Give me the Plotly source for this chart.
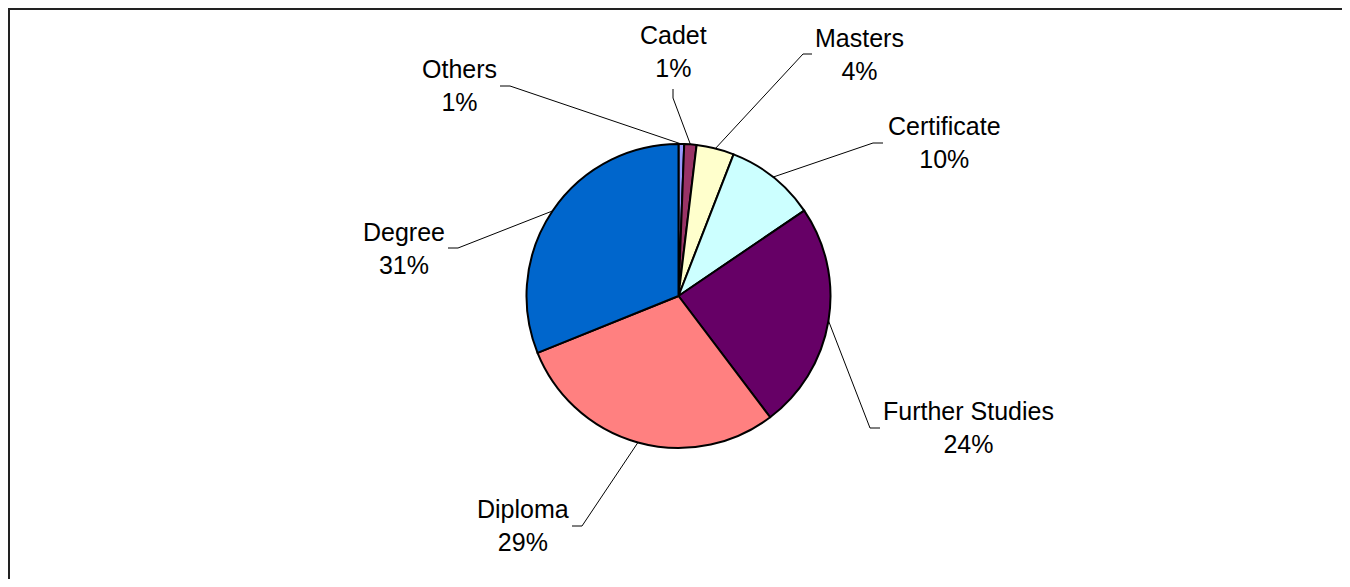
import math
import plotly.graph_objects as go

# slice order as drawn, starting at 12 o'clock and going clockwise
labels = ['Others', 'Cadet', 'Masters', 'Certificate', 'Further Studies', 'Diploma', 'Degree']
shares = [0.6, 1.3, 4.0, 9.6, 24.2, 29.2, 31.1]
colors = ['#9999FF', '#993366', '#FFFFCC', '#CCFFFF', '#660066', '#FF8080', '#0066CC']

# label centre and leader-line elbow, in screen pixels
label_xy = [(459, 85), (673.5, 52), (859, 54), (944, 142.5), (968, 427.5), (522.5, 525), (403.5, 248)]
elbow_xy = [(510, 86), (673, 98), (803, 54), (873, 143), (870, 428), (582, 526), (458, 248)]
tail_xy = [(500, 86), (673, 89), (812, 54), (883, 143), (880, 428), (572, 526), (448, 248)]

W, H, OFF = 1334, 571, 8
cx, cy, r = 678.5, 296, 152


def fx(x):
    return (x - OFF) / W


def fy(y):
    return 1 - (y - OFF) / H


fig = go.Figure(go.Pie(
    labels=labels,
    values=shares,
    sort=False,
    direction='clockwise',
    rotation=0,
    textinfo='none',
    marker=dict(colors=colors, line=dict(color='black', width=2)),
    domain=dict(x=[fx(cx - r), fx(cx + r)], y=[fy(cy + r), fy(cy - r)]),
    showlegend=False,
))

total = sum(shares)
shapes = []
annotations = []
cum = 0
for lab, v, (lx, ly), (ex, ey), (tx, ty) in zip(labels, shares, label_xy, elbow_xy, tail_xy):
    a = 2 * math.pi * (cum + v / 2) / total
    cum += v
    sx, sy = cx + r * math.sin(a), cy - r * math.cos(a)
    shapes.append(dict(
        type='path', xref='paper', yref='paper',
        path=f'M {fx(sx)},{fy(sy)} L {fx(ex)},{fy(ey)} L {fx(tx)},{fy(ty)}',
        line=dict(color='black', width=1),
    ))
    annotations.append(dict(
        x=fx(lx), y=fy(ly), xref='paper', yref='paper',
        text=f'{lab}<br>{round(v / total * 100)}%',
        showarrow=False, xanchor='center', yanchor='middle', align='center',
        font=dict(family='Liberation Sans, Arial', size=25, color='black'),
    ))

# chart frame
shapes.append(dict(
    type='rect', xref='paper', yref='paper',
    x0=fx(OFF + 1), x1=fx(1348), y0=fy(600), y1=fy(OFF + 1),
    line=dict(color='#222222', width=2),
))

fig.update_layout(
    width=W, height=H,
    margin=dict(l=0, r=0, t=0, b=0),
    paper_bgcolor='white',
    plot_bgcolor='white',
    shapes=shapes,
    annotations=annotations,
)

fig.write_html("out.html")
